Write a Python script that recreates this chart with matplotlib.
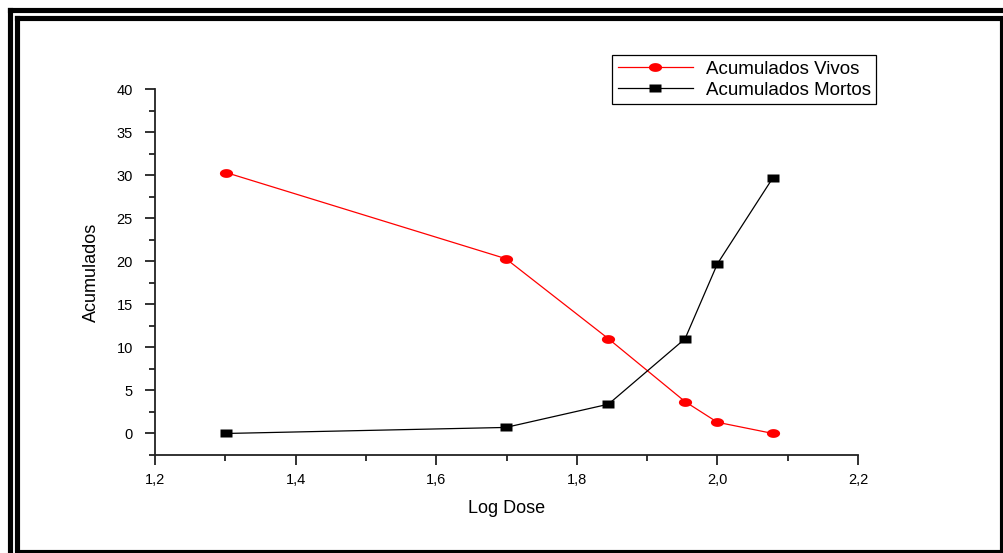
import matplotlib

matplotlib.use("Agg")
import matplotlib.pyplot as plt
import numpy as np
from matplotlib.lines import Line2D
from matplotlib.path import Path
from matplotlib.ticker import FixedLocator, MultipleLocator

plt.rcParams["font.family"] = ["Liberation Sans", "DejaVu Sans"]

# data (x = log10 of dose)
log_dose = [1.301, 1.699, 1.845, 1.954, 2.000, 2.079]
vivos = [30.3, 20.3, 11.0, 3.7, 1.3, 0.0]
mortos = [0.0, 0.7, 3.4, 11.0, 19.7, 29.7]

x_ticks = [1.2, 1.4, 1.6, 1.8, 2.0, 2.2]
y_ticks = [0, 5, 10, 15, 20, 25, 30, 35, 40]

W, H = 1004, 553


def fx(px):
    return px / W


def fy(py):
    return 1 - py / H


# flattened markers: ellipse and rectangle
t = np.linspace(0, 2 * np.pi, 60)
ellipse = Path(np.column_stack([1.5 * np.cos(t), np.sin(t)]), closed=True)
rect = Path([(-1.5, -1), (1.5, -1), (1.5, 1), (-1.5, 1), (-1.5, -1)], closed=True)

fig = plt.figure(figsize=(W / 100, H / 100), dpi=100)
ax = fig.add_axes([fx(155), fy(455), fx(858) - fx(155), fy(89) - fy(455)])

ax.plot(log_dose, vivos, color="#ff0000", lw=0.9, marker=ellipse, ms=9.5,
        mec="none", label="Acumulados Vivos")
ax.plot(log_dose, mortos, color="black", lw=0.9, marker=rect, ms=8.5,
        mec="none", label="Acumulados Mortos")

ax.set_xlim(1.2, 2.2)
ax.set_ylim(-2.5, 40)
ax.xaxis.set_major_locator(FixedLocator(x_ticks))
ax.yaxis.set_major_locator(FixedLocator(y_ticks))
ax.xaxis.set_minor_locator(MultipleLocator(0.1))
ax.yaxis.set_minor_locator(MultipleLocator(2.5))
ax.set_xticklabels([f"{v:.1f}".replace(".", ",") for v in x_ticks])
ax.set_yticklabels([str(v) for v in y_ticks])

for side in ("top", "right"):
    ax.spines[side].set_visible(False)
for side in ("left", "bottom"):
    ax.spines[side].set_linewidth(1.3)
    ax.spines[side].set_color("#222222")

ax.tick_params(which="major", direction="out", length=7, width=1.3,
               labelsize=10.5, color="#222222", pad=6)
ax.tick_params(axis="y", which="major", pad=9)
ax.tick_params(which="minor", direction="out", length=4, width=1.3,
               color="#222222")

ax.set_xlabel("Log Dose", fontsize=13, labelpad=9)
ax.set_ylabel("Acumulados", fontsize=13, labelpad=12)

leg = ax.legend(loc="upper left", bbox_to_anchor=(fx(612), fy(55)),
                bbox_transform=fig.transFigure, fontsize=13.5, fancybox=False,
                framealpha=1, edgecolor="black", borderpad=0.3,
                handlelength=4.0, handletextpad=0.7, labelspacing=0.2,
                borderaxespad=0)
leg.get_frame().set_linewidth(0.9)

# double black frame around the figure
for x0, y0, x1, y1 in [(9.5, 10, 1010, 560), (17.5, 17.5, 1002.5, 551.5)]:
    xs = [fx(x0), fx(x1), fx(x1), fx(x0), fx(x0)]
    ys = [fy(y0), fy(y0), fy(y1), fy(y1), fy(y0)]
    fig.add_artist(Line2D(xs, ys, transform=fig.transFigure, color="black",
                          lw=3.7, solid_joinstyle="miter"))

fig.savefig("out.png", dpi=100)
